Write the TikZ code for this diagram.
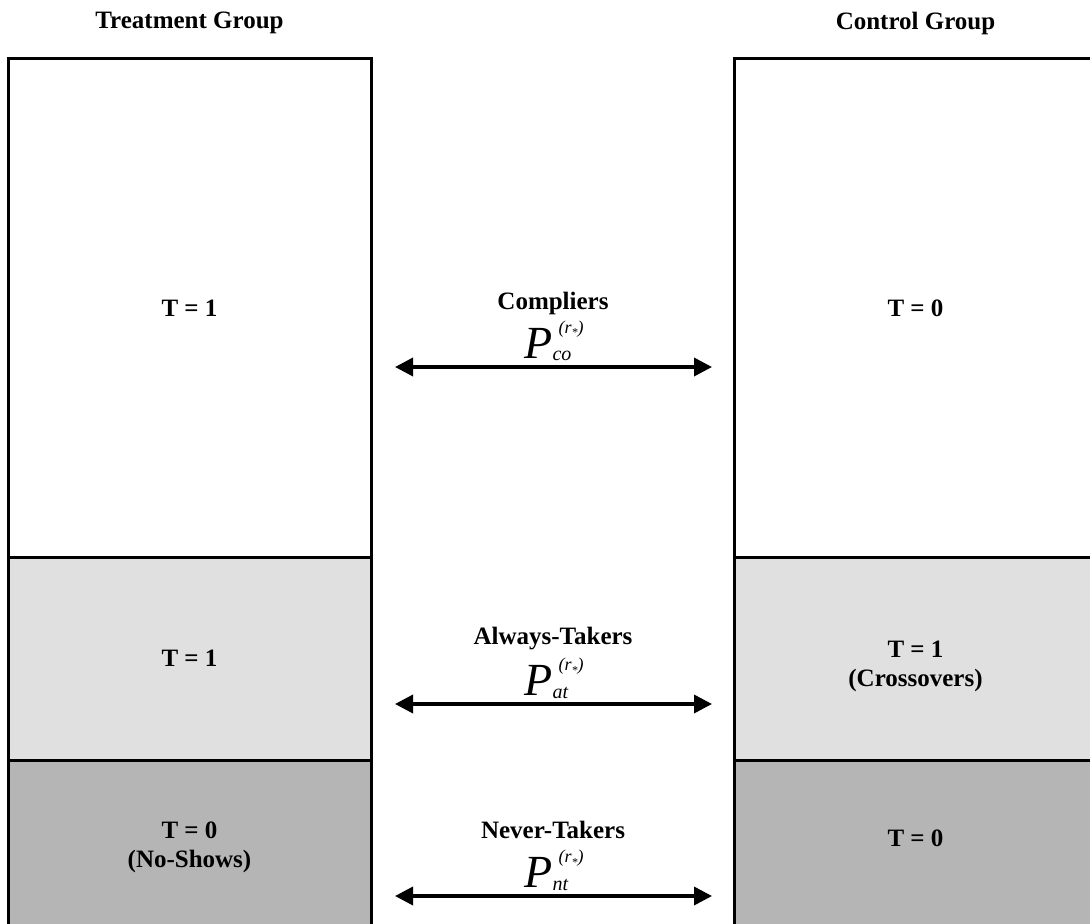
\documentclass[tikz,border=0pt]{standalone}
\usepackage{fontspec}
\setmainfont{Liberation Serif}
\usetikzlibrary{arrows.meta,positioning}

\definecolor{lightband}{HTML}{E0E0E0}
\definecolor{darkband}{HTML}{B5B5B5}
\newcommand{\labelfont}{\bfseries\fontsize{12.5}{14.5}\selectfont}
% P with stratum index below and (r*) above
\newcommand{\probsym}[1]{%
  \mbox{\fontsize{23}{23}\selectfont\itshape P}%
  \rlap{\raisebox{-1.5pt}{\fontsize{10}{10}\selectfont\itshape #1}}%
  \kern3pt\raisebox{12.5pt}{\fontsize{9}{9}\selectfont\itshape
    (r\raisebox{-2pt}{\fontsize{6}{6}\selectfont *})}}

\begin{document}
\begin{tikzpicture}[x=0.5pt, y=-0.5pt,
    band/.style={draw=black, line width=1.5pt, minimum width=181.5pt,
                 inner sep=0pt, outer sep=0pt, align=center, font=\labelfont},
    tag/.style={align=center, font=\labelfont, inner sep=1pt},
    probnode/.style={anchor=base, inner sep=0pt},
    twoway/.style={{Triangle[length=9pt,width=9pt]}-{Triangle[length=9pt,width=9pt]},
                   line width=1.75pt, shorten <=12pt, shorten >=11pt}]
      \clip (0,0) rectangle (1090,924);

      % treatment column
      \node[tag] (trtHead) at (189.5,23) {Treatment Group};
      \node[band, fill=white, minimum height=249pt] (trtTop) at (189.5,308) {T = 1};
      \node[band, fill=lightband, minimum height=101.5pt] (trtMid)
           [below = 0pt of trtTop] {T = 1};
      \node[band, fill=darkband, minimum height=87pt] (trtLow)
           [below = 0pt of trtMid] {T = 0\\(No-Shows)};

      % control column
      \node[tag] (ctlHead) at (915.5,23) {Control Group};
      \node[band, fill=white, minimum height=249pt] (ctlTop) at (915.5,308) {T = 0};
      \node[band, fill=lightband, minimum height=101.5pt] (ctlMid)
           [below = 0pt of ctlTop] {};
      \node[band, fill=darkband, minimum height=87pt] (ctlLow)
           [below = 0pt of ctlMid] {};
      \node[tag] (ctlMidText) at ([yshift=-4pt]ctlMid.center) {T = 1\\(Crossovers)};
      \node[tag] (ctlLowText) at ([yshift=4.5pt]ctlLow.center) {T = 0};

      % strata between the columns
      \node[tag] (coName) at (553,303) {Compliers};
      \node[probnode] (coProb) at (554,358) {\probsym{co}};
      \node[tag] (atName) at (553,639) {Always-Takers};
      \node[probnode] (atProb) at (554,695) {\probsym{at}};
      \node[tag] (ntName) at (553,830) {Never-Takers};
      \node[probnode] (ntProb) at (554,887) {\probsym{nt}};

      \coordinate (coL) at (371,367);
      \coordinate (coR) at (734,367);
      \coordinate (atL) at (371,704);
      \coordinate (atR) at (734,704);
      \coordinate (ntL) at (371,896);
      \coordinate (ntR) at (734,896);

      \draw[twoway] (coL) -- (coR);
      \draw[twoway] (atL) -- (atR);
      \draw[twoway] (ntL) -- (ntR);
\end{tikzpicture}
\end{document}
